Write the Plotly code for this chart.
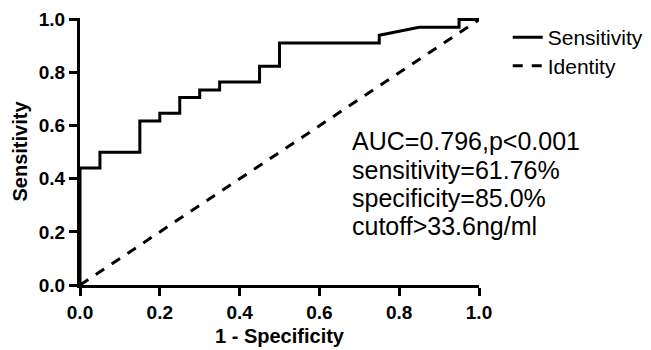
import plotly.graph_objects as go

# ROC curve (1 - specificity, sensitivity), step points
fpr = [0.0, 0.0, 0.05, 0.05, 0.15, 0.15, 0.20, 0.20, 0.25, 0.25, 0.30, 0.30,
       0.35, 0.35, 0.45, 0.45, 0.50, 0.50, 0.75, 0.75, 0.85, 0.95, 0.95, 1.0]
tpr = [0.0, 0.441, 0.441, 0.500, 0.500, 0.618, 0.618, 0.647, 0.647, 0.706, 0.706, 0.735,
       0.735, 0.765, 0.765, 0.824, 0.824, 0.912, 0.912, 0.941, 0.971, 0.971, 1.0, 1.0]
identity_x = [0.0, 1.0]
identity_y = [0.0, 1.0]

x_ticks = [0.0, 0.2, 0.4, 0.6, 0.8, 1.0]
y_ticks = [0.0, 0.2, 0.4, 0.6, 0.8, 1.0]
stats_lines = ["AUC=0.796,p<0.001", "sensitivity=61.76%", "specificity=85.0%", "cutoff>33.6ng/ml"]

FONT = "Liberation Sans, Arial, sans-serif"

fig = go.Figure()
fig.add_trace(go.Scatter(x=fpr, y=tpr, mode="lines", name="Sensitivity", showlegend=True,
                         line=dict(color="black", width=3), legend="legend"))
fig.add_trace(go.Scatter(x=identity_x, y=identity_y, mode="lines", name="Identity", showlegend=True,
                         line=dict(color="black", width=3, dash="10px,9px"), legend="legend2"))

ann_y = [0.538, 0.432, 0.326, 0.220]
for txt, yy in zip(stats_lines, ann_y):
    fig.add_annotation(x=0.677, y=yy, xref="paper", yref="paper", text=txt,
                       showarrow=False, xanchor="left", yanchor="middle",
                       font=dict(family=FONT, size=25, color="black"))

axis_common = dict(showgrid=False, zeroline=False, showline=True, linecolor="black",
                   linewidth=3, ticks="outside", ticklen=8, tickwidth=2.5, tickcolor="black",
                   tickfont=dict(family=FONT, size=19, color="black", weight="bold"),
                   automargin=False)

fig.update_layout(
    width=651, height=350,
    margin=dict(l=80, r=172, t=18, b=65, autoexpand=False),
    plot_bgcolor="white", paper_bgcolor="white",
    showlegend=True,
    xaxis=dict(range=[0, 1.0], tickvals=x_ticks, ticktext=[f"{v:.1f}" for v in x_ticks],
               title=dict(text="1 - Specificity", standoff=8,
                          font=dict(family=FONT, size=20, color="black", weight="bold")),
               **axis_common),
    yaxis=dict(range=[0, 1.006], tickvals=y_ticks, ticktext=[f"{v:.1f}" for v in y_ticks],
               title=dict(text="Sensitivity", standoff=6,
                          font=dict(family=FONT, size=20, color="black", weight="bold")),
               **axis_common),
    legend=dict(x=1.072, y=0.927, xanchor="left", yanchor="middle",
                font=dict(family=FONT, size=21, color="black"), bgcolor="rgba(0,0,0,0)"),
    legend2=dict(x=1.072, y=0.820, xanchor="left", yanchor="middle",
                 font=dict(family=FONT, size=21, color="black"), bgcolor="rgba(0,0,0,0)"),
)

fig.write_html("out.html")
